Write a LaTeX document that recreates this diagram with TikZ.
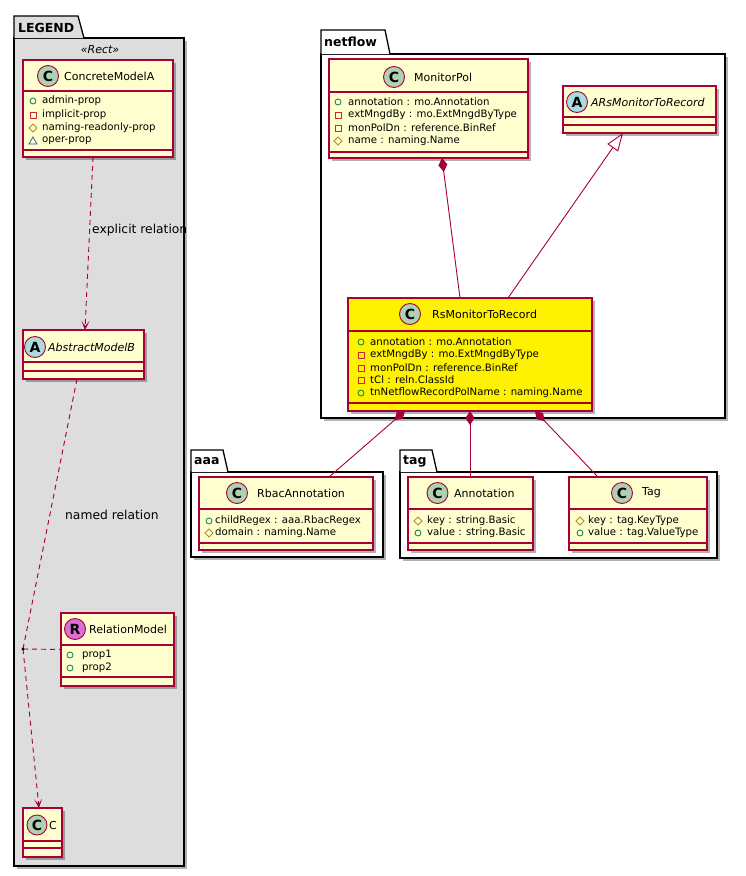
\documentclass[tikz,border=0pt]{standalone}
\usepackage{fontspec}
\setmainfont{DejaVu Sans}
\usetikzlibrary{shadows,arrows.meta,calc,shapes.geometric}
\definecolor{umlred}{HTML}{A80036}
\definecolor{umlfill}{HTML}{FEFECE}
\definecolor{cgreen}{HTML}{ADD1B2}
\definecolor{ablue}{HTML}{A9DCDF}
\definecolor{rmag}{HTML}{DA70D6}
\definecolor{pkggray}{HTML}{DDDDDD}
\definecolor{icgreen}{HTML}{038048}
\definecolor{icred}{HTML}{C82930}
\definecolor{icgold}{HTML}{B38D22}
\definecolor{icblue}{HTML}{1963A0}
\tikzset{
  cls/.style={draw=umlred, line width=1.3pt, inner sep=0pt, outer sep=0pt, anchor=north west,
    drop shadow={shadow xshift=3pt, shadow yshift=-3pt, fill=black, opacity=0.3}},
  cline/.style={draw=umlred, line width=1.1pt},
  pkgbody/.style={draw=black, line width=1.3pt, inner sep=0pt, outer sep=0pt, anchor=north west,
    drop shadow={shadow xshift=3pt, shadow yshift=-3pt, fill=black, opacity=0.3}},
  pkgtab/.style={draw=black, line width=1.3pt},
  pkgtitle/.style={font=\bfseries\fontsize{12.5}{13}\selectfont, anchor=west, inner sep=0pt},
  circ/.style={circle, draw=umlred, line width=0.9pt, minimum size=21pt, inner sep=0pt,
    font=\bfseries\fontsize{14}{14}\selectfont},
  cname/.style={font=\fontsize{11}{13}\selectfont, anchor=west, inner sep=0pt},
  aname/.style={font=\itshape\fontsize{11}{13}\selectfont, anchor=west, inner sep=0pt},
  attr/.style={font=\fontsize{10.2}{12}\selectfont, anchor=west, inner sep=0pt},
  lbl/.style={font=\fontsize{12.3}{14}\selectfont, anchor=west, inner sep=0pt},
  dep/.style={draw=umlred, line width=0.9pt, dash pattern=on 5pt off 4pt},
  deparrow/.style={dep, -{Stealth[length=9pt,width=8pt,inset=5pt]}},
  comp/.style={draw=umlred, line width=0.9pt, {Diamond[length=14pt,width=9pt]}-},
  inh/.style={draw=umlred, line width=0.9pt, -{Triangle[open,length=18pt,width=13pt,fill=white]}},
}
\newcommand\umlbox[8]{%
  \node[cls, fill=#8, minimum width={#4pt-#2pt}, minimum height={#5pt-#3pt}] (#1) at (#2,#3) {};
  \draw[cline] (#2,#6) -- (#4,#6);
  \draw[cline] (#2,#7) -- (#4,#7);}
\newcommand\vpub[2]{\draw[icgreen, line width=0.8pt] (#1,#2) circle[radius=3pt];}
\newcommand\vpriv[2]{\draw[icred, line width=0.8pt, shift={(#1,#2)}] (-3,-3) rectangle (3,3);}
\newcommand\vprot[2]{\draw[icgold, line width=0.8pt, shift={(#1,#2)}] (0,-4) -- (4,0) -- (0,4) -- (-4,0) -- cycle;}
\newcommand\vpkg[2]{\draw[icblue, line width=0.8pt, shift={(#1,#2)}] (0,-4) -- (4,3) -- (-4,3) -- cycle;}
\newcommand\attr[5]{\csname v#1\endcsname{#2}{#4}\node[attr] at (#3,#4) {#5};}
\begin{document}
\begin{tikzpicture}[x=1pt,y=-1pt]
\useasboundingbox[fill=white] (0,0) rectangle (746,876);

% ---------- packages ----------
\node[pkgbody, fill=pkggray, minimum width=170pt, minimum height=828pt] (legend) at (14,38) {};
\draw[pkgtab, fill=pkggray] (14,38) -- (14,16) -- (78,16) -- (84,38);
\node[pkgtitle] (legendt) at (18,27.5) {LEGEND};

\node[pkgbody, fill=white, minimum width=404pt, minimum height=364pt] (netflow) at (321,54) {};
\draw[pkgtab, fill=white] (321,54) -- (321,30) -- (385,30) -- (390,54);
\node[pkgtitle] (netflowt) at (324,42) {netflow};

\node[pkgbody, fill=white, minimum width=192pt, minimum height=85pt] (aaa) at (191,472) {};
\draw[pkgtab, fill=white] (191,472) -- (191,450) -- (223,450) -- (228,472);
\node[pkgtitle] (aaat) at (194,461) {aaa};

\node[pkgbody, fill=white, minimum width=317pt, minimum height=86pt] (tag) at (400,472) {};
\draw[pkgtab, fill=white] (400,472) -- (400,450) -- (432,450) -- (437,472);
\node[pkgtitle] (tagt) at (403,461) {tag};

% ---------- classes ----------
\node[font=\itshape\fontsize{11}{13}\selectfont] (stereo) at (100,50) {«Rect»};

\umlbox{cA}{23}{60}{173}{157}{91}{150}{umlfill}
\node[circ, fill=cgreen] (cAc) at (48,76) {C};
\node[cname] (cAn) at (64,76) {ConcreteModelA};
\attr{pub}{33}{42}{101}{admin-prop}
\attr{priv}{33}{42}{115}{implicit-prop}
\attr{prot}{33}{42}{128}{naming-readonly-prop}
\attr{pkg}{33}{42}{141}{oper-prop}

\umlbox{aB}{23}{330}{144}{379}{362}{371}{umlfill}
\node[circ, fill=ablue] (aBc) at (35,347) {A};
\node[aname] (aBn) at (48,347) {AbstractModelB};

\umlbox{rM}{61}{613}{174}{686}{645}{677}{umlfill}
\node[circ, fill=rmag] (rMc) at (75,629) {R};
\node[cname] (rMn) at (89,629) {RelationModel};
\attr{pub}{70}{82}{655}{prop1}
\attr{pub}{70}{82}{668}{prop2}

\umlbox{cC}{23}{808}{62}{857}{841}{848}{umlfill}
\node[circ, fill=cgreen, minimum size=20pt] (cCc) at (37,825) {C};
\node[cname] (cCn) at (49,825) {C};

\umlbox{mp}{329}{59}{528}{158}{92}{152}{umlfill}
\node[circ, fill=cgreen] (mpc) at (394,77) {C};
\node[cname] (mpn) at (414,77) {MonitorPol};
\attr{pub}{338}{348}{102}{annotation : mo.Annotation}
\attr{priv}{338}{348}{115}{extMngdBy : mo.ExtMngdByType}
\attr{priv}{338}{348}{128}{monPolDn : reference.BinRef}
\attr{prot}{338}{348}{141}{name : naming.Name}

\umlbox{ars}{563}{86}{716}{133}{117}{125}{umlfill}
\node[circ, fill=ablue] (arsc) at (577,102) {A};
\node[aname] (arsn) at (591,102) {ARsMonitorToRecord};

% ---------- connectors (legend) ----------
\coordinate (nr) at (23,649);
\draw[deparrow] ($(cA.south)+(-5,0)$) -- ($(aB.north)+(1.5,0)$);
\node[lbl] (el) at (92,230) {explicit relation};
\draw[dep] ($(aB.south)+(-6.5,0)$) -- (nr);
\draw[deparrow] (nr) -- ($(cC.north)+(-3.5,0)$);
\draw[dep] (nr) -- (rM.west);
\fill (nr) circle[radius=1.6pt];
\node[lbl] (nl) at (65,515) {named relation};

% ---------- Rs and connectors ----------
\draw[comp] ($(mp.south)+(13.5,0)$) -- (460,298) coordinate (rsA);
\draw[inh] (508,298) coordinate (rsB) -- ($(ars.south)+(-16.5,0)$);

\umlbox{rs}{348}{298}{592}{411}{331}{403}{yellow}
\node[circ, fill=cgreen] (rsc) at (410,314) {C};
\node[cname] (rsn) at (432,314) {RsMonitorToRecord};
\attr{pub}{361}{370}{342}{annotation : mo.Annotation}
\attr{priv}{361}{370}{355}{extMngdBy : mo.ExtMngdByType}
\attr{priv}{361}{370}{368}{monPolDn : reference.BinRef}
\attr{priv}{361}{370}{380}{tCl : reln.ClassId}
\attr{pub}{361}{370}{393}{tnNetflowRecordPolName : naming.Name}

\umlbox{rb}{199}{477}{373}{550}{509}{543}{umlfill}
\node[circ, fill=cgreen] (rbc) at (237,493) {C};
\node[cname] (rbn) at (257,493) {RbacAnnotation};
\attr{pub}{209}{215}{521}{childRegex : aaa.RbacRegex}
\attr{prot}{209}{215}{533}{domain : naming.Name}

\umlbox{an}{408}{477}{533}{550}{509}{543}{umlfill}
\node[circ, fill=cgreen] (anc) at (437.5,493) {C};
\node[cname] (ann) at (454,493) {Annotation};
\attr{prot}{418}{427}{521}{key : string.Basic}
\attr{pub}{418}{427}{533}{value : string.Basic}

\umlbox{tg}{569}{477}{707}{550}{509}{543}{umlfill}
\node[circ, fill=cgreen] (tgc) at (622,493) {C};
\node[cname] (tgn) at (642,493) {Tag};
\attr{prot}{580}{588}{521}{key : tag.KeyType}
\attr{pub}{580}{588}{533}{value : tag.ValueType}

\draw[comp] ($(rs.south)+(-65,0)$) -- ($(rb.north)+(43,0)$);
\draw[comp] ($(rs.south)+(0,0)$) -- ($(an.north)+(-0.5,0)$);
\draw[comp] ($(rs.south)+(65,0)$) -- ($(tg.north)+(-40,0)$);
\end{tikzpicture}
\end{document}
